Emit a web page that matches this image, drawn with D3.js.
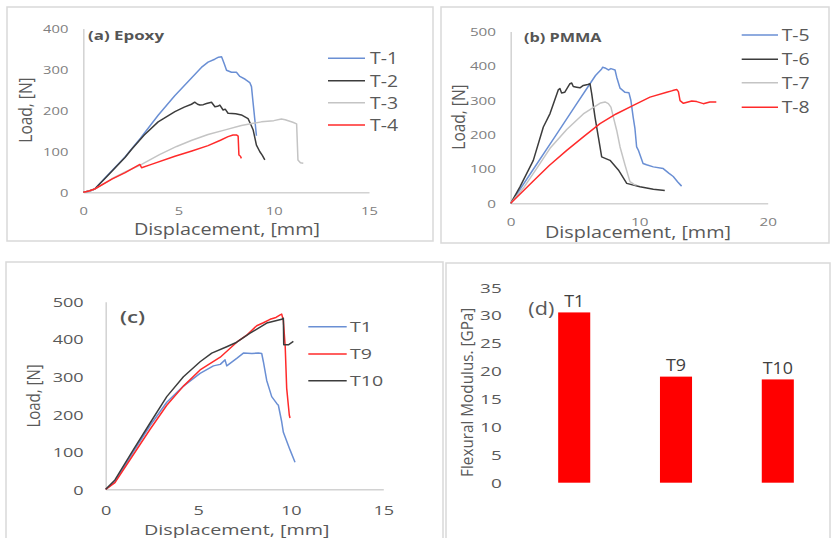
<!DOCTYPE html>
<html>
<head>
<meta charset="utf-8">
<script src="https://cdn.jsdelivr.net/npm/d3@7"></script>
<style>
  html, body { margin: 0; padding: 0; background: #ffffff; }
  svg { display: block; }
</style>
</head>
<body>
<svg id="fig" width="831" height="538"></svg>
<script>
// ---------- data: load–displacement curves, [displacement mm, load N] ----------
const epoxyT1 = [[0,0],[0.3,2],[0.6,8],[1.2,38],[2.19,86],[3.0,132],[3.93,188],[4.8,236],[5.68,279],[6.2,305],[6.55,318],[6.9,325],[7.1,330],[7.26,331],[7.4,314],[7.52,298],[7.78,293],[8.04,293],[8.22,283],[8.5,276],[8.74,268],[8.83,258],[8.9,225],[9.0,180],[9.09,138]];
const epoxyT2 = [[0,0],[0.3,3],[0.6,8],[1.2,37],[2.19,85],[2.54,105],[3.2,140],[3.93,172],[4.81,197],[5.3,208],[5.68,215],[5.85,220],[6.0,215],[6.12,213],[6.3,214],[6.47,217],[6.73,220],[6.91,209],[7.05,210],[7.17,213],[7.34,201],[7.45,203],[7.6,193],[8.0,192],[8.3,189],[8.65,180],[8.8,165],[8.92,152],[9.09,115],[9.27,99],[9.4,90],[9.53,79]];
const epoxyT3 = [[0,0],[0.3,2],[0.6,8],[1.5,33],[2.2,50],[3.06,68],[4.0,92],[4.9,112],[5.7,127],[6.55,141],[7.5,153],[8.3,163],[9.35,172],[10.0,175],[10.4,179],[10.6,177],[11.0,171],[11.2,167],[11.27,79],[11.4,72],[11.55,71]];
const epoxyT4 = [[0,0],[0.3,3],[0.6,8],[1.5,32],[2.2,48],[2.97,68],[3.06,60],[3.5,67],[4.81,88],[5.7,101],[6.55,114],[7.2,127],[7.6,136],[7.86,140],[8.04,140],[8.13,137],[8.17,91],[8.25,88],[8.3,83]];

const pmmaT5 = [[0,0],[1.76,99],[3.5,197],[5.0,282],[6.17,348],[6.6,372],[7.08,391],[7.16,396],[7.34,394],[7.6,388],[7.8,392],[8.12,388],[8.25,367],[8.51,335],[8.9,323],[9.2,322],[9.35,300],[9.53,251],[9.67,217],[9.8,164],[9.93,155],[10.3,116],[10.57,112],[11.1,106],[11.87,101],[12.3,88],[12.65,78],[13.0,62],[13.3,50]];
const pmmaT6 = [[0,0],[0.72,48],[1.76,125],[2.54,222],[3.06,261],[3.7,330],[3.83,334],[3.96,321],[4.2,323],[4.61,348],[4.75,350],[4.87,340],[5.13,338],[5.39,336],[5.65,343],[6.0,346],[6.17,348],[6.3,320],[6.56,251],[6.82,193],[7.08,135],[7.4,130],[7.73,125],[8.38,97],[9.03,58],[10.06,48],[11.1,41],[11.99,37]];
const pmmaT7 = [[0,0],[1.0,45],[2.0,100],[3.06,160],[4.36,215],[5.65,260],[6.69,285],[7.0,292],[7.34,295],[7.6,290],[7.8,280],[7.99,251],[8.25,212],[8.51,164],[8.9,111],[9.28,63],[9.6,55],[9.8,53]];
const pmmaT8 = [[0,0],[1.76,65],[3.0,110],[4.36,154],[5.7,195],[6.95,232],[8.2,260],[9.54,285],[10.84,309],[12.14,323],[12.6,328],[12.92,331],[13.05,325],[13.18,299],[13.44,291],[13.8,295],[14.09,298],[14.48,296],[14.99,290],[15.5,295],[16.0,295]];

const hybT1 = [[0,0],[0.5,20],[1.49,100],[2.4,170],[3.3,232],[4.2,275],[5.1,309],[5.82,329],[6.19,333],[6.45,345],[6.54,329],[7.08,349],[7.44,363],[7.9,362],[8.25,363],[8.43,362],[8.52,340],[8.7,290],[8.97,247],[9.24,229],[9.33,224],[9.51,180],[9.6,152],[9.96,105],[10.23,72]];
const hybT9 = [[0,0],[0.5,18],[1.49,92],[2.4,160],[3.3,224],[4.2,275],[5.1,318],[6.19,352],[7.08,392],[7.6,410],[8.16,436],[8.52,444],[8.88,453],[9.2,458],[9.43,465],[9.51,467],[9.6,450],[9.7,380],[9.78,269],[9.92,198],[9.96,190]];
const hybT10 = [[0,0],[0.5,25],[1.49,105],[2.39,176],[3.3,247],[4.2,300],[5.1,340],[5.73,363],[6.54,380],[7.08,392],[7.8,416],[8.7,443],[9.51,453],[9.6,456],[9.62,385],[9.87,385],[10.14,394]];

// flexural modulus bars
const modCats = ["T1", "T9", "T10"];
const modValues = [30.5, 19.0, 18.5];

// tick values
const ticksX15 = [0, 5, 10, 15];
const ticksX20 = [0, 10, 20];
const ticksY400 = [0, 100, 200, 300, 400];
const ticksY500 = [0, 100, 200, 300, 400, 500];
const ticksY35 = [0, 5, 10, 15, 20, 25, 30, 35];

// ---------- styling ----------
const FONT = "'Open Sans', 'Noto Sans', sans-serif";
const C = { blue: "#6a8fd4", black: "#3c3c3c", gray: "#c4c4c4", red: "#ff2a2a" };
const svg = d3.select("#fig");

// text helper: centred vertically, optional horizontal stretch and rotation
function label(g, x, y, str, o = {}) {
  let tf = `translate(${x},${y}) scale(${o.sx || 1},1)`;
  if (o.rot) tf += ` rotate(${o.rot})`;
  return g.append("text")
    .attr("transform", tf)
    .attr("text-anchor", o.anchor || "start")
    .attr("dominant-baseline", "central")
    .attr("font-family", FONT)
    .attr("font-size", o.size || 14)
    .attr("font-weight", o.weight || "normal")
    .attr("fill", o.fill || "#595959")
    .text(str);
}

function styleAxis(g, o) {
  g.select(".domain").attr("stroke", o.domain === false ? "none" : "#d2d2d2").attr("stroke-width", 1.5);
  g.selectAll(".tick line").remove();
  g.selectAll(".tick text")
    .attr("font-family", FONT)
    .attr("font-size", o.size)
    .attr("fill", o.fill)
    .attr("dy", null)
    .attr("dominant-baseline", "central")
    .attr("x", o.left ? -o.pad / o.sx : 0)
    .attr("y", o.left ? 0 : o.pad)
    .attr("transform", `scale(${o.sx},1)`);
}

// panel frames
[[7, 7, 426, 234], [441, 7, 388, 236], [6, 262, 437, 290], [446, 263, 384, 290]].forEach(r => {
  svg.append("rect").attr("x", r[0]).attr("y", r[1]).attr("width", r[2]).attr("height", r[3])
    .attr("fill", "#ffffff").attr("stroke", "#d9d9d9").attr("stroke-width", 1.5);
});

// generic load–displacement panel
function linePanel(p) {
  const g = svg.append("g");
  const x = d3.scaleLinear().domain(p.xDomain).range(p.xRange);
  const y = d3.scaleLinear().domain(p.yDomain).range(p.yRange);

  const ax = g.append("g").attr("transform", `translate(0,${p.yRange[0]})`)
    .call(d3.axisBottom(x).tickValues(p.xTicks).tickSize(0).tickFormat(d3.format("d")));
  styleAxis(ax, { size: p.tickSize, fill: p.tickFill, sx: p.tickSx, pad: p.xPad });
  const ay = g.append("g").attr("transform", `translate(${p.xRange[0]},0)`)
    .call(d3.axisLeft(y).tickValues(p.yTicks).tickSize(0).tickFormat(d3.format("d")));
  styleAxis(ay, { size: p.tickSize, fill: p.tickFill, sx: p.tickSx, pad: p.yPad, left: true });

  const line = d3.line().x(d => x(d[0])).y(d => y(d[1]));
  p.series.forEach(s => {
    g.append("path").datum(s.data).attr("d", line)
      .attr("fill", "none").attr("stroke", s.color).attr("stroke-width", 1.5)
      .attr("stroke-linejoin", "round");
  });

  // legend
  p.series.forEach((s, i) => {
    const ly = p.legend.y[i];
    g.append("line").attr("x1", p.legend.x1).attr("x2", p.legend.x2).attr("y1", ly).attr("y2", ly)
      .attr("stroke", s.color).attr("stroke-width", 1.5);
    label(g, p.legend.tx, ly, s.name, { size: p.legend.size, sx: p.legend.sx, fill: "#595959" });
  });

  label(g, p.xTitle[0], p.xTitle[1], "Displacement, [mm]", { size: p.xTitle[2], sx: p.xTitle[3], anchor: "middle" });
  label(g, p.yTitle[0], p.yTitle[1], "Load, [N]", { size: p.yTitle[2], sx: p.yTitle[3], anchor: "middle", rot: -90 });
  label(g, p.title[0], p.title[1], p.title[4], { size: p.title[2], sx: p.title[3], weight: p.title[5], fill: "#555555" });
}

// (a) Epoxy
linePanel({
  xDomain: [0, 15], xRange: [83.3, 369], yDomain: [0, 400], yRange: [192.3, 28.5],
  xTicks: ticksX15, yTicks: ticksY400,
  tickSize: 10.5, tickFill: "#808080", tickSx: 1.4, xPad: 19, yPad: 15,
  series: [
    { name: "T-1", data: epoxyT1, color: C.blue },
    { name: "T-2", data: epoxyT2, color: C.black },
    { name: "T-3", data: epoxyT3, color: C.gray },
    { name: "T-4", data: epoxyT4, color: C.red }
  ],
  legend: { x1: 328, x2: 365, tx: 370, y: [58.3, 80.7, 102.7, 125], size: 15.5, sx: 1.25 },
  xTitle: [227, 229, 16.5, 1.2], yTitle: [25, 110, 15.5, 1.16],
  title: [88, 35, 13, 1.3, "(a) Epoxy", "bold"]
});

// (b) PMMA
linePanel({
  xDomain: [0, 20], xRange: [510.7, 767.7], yDomain: [0, 500], yRange: [203.3, 31.5],
  xTicks: ticksX20, yTicks: ticksY500,
  tickSize: 10.5, tickFill: "#808080", tickSx: 1.45, xPad: 18.4, yPad: 14.7,
  series: [
    { name: "T-5", data: pmmaT5, color: C.blue },
    { name: "T-6", data: pmmaT6, color: C.black },
    { name: "T-7", data: pmmaT7, color: C.gray },
    { name: "T-8", data: pmmaT8, color: C.red }
  ],
  legend: { x1: 741.7, x2: 778, tx: 781.7, y: [35, 59.3, 82.7, 107.3], size: 15.5, sx: 1.25 },
  xTitle: [638, 231.5, 16.5, 1.2], yTitle: [458, 117, 15.5, 1.16],
  title: [524, 37, 13, 1.25, "(b) PMMA", "bold"]
});

// (c) comparison
linePanel({
  xDomain: [0, 15], xRange: [105.7, 383.3], yDomain: [0, 500], yRange: [489.3, 301.7],
  xTicks: ticksX15, yTicks: ticksY500,
  tickSize: 12.3, tickFill: "#595959", tickSx: 1.47, xPad: 21, yPad: 22,
  series: [
    { name: "T1", data: hybT1, color: C.blue },
    { name: "T9", data: hybT9, color: C.red },
    { name: "T10", data: hybT10, color: C.black }
  ],
  legend: { x1: 308.3, x2: 346.7, tx: 350, y: [326.7, 354, 380.7], size: 14, sx: 1.4 },
  xTitle: [236.7, 528.5, 15.2, 1.3], yTitle: [33, 396, 15, 1.24],
  title: [120, 316.7, 16.5, 1.35, "(c)", 600]
});

// (d) flexural modulus
(function () {
  const g = svg.append("g");
  const x = d3.scaleBand().domain(modCats).range([523.3, 828.7]).padding(0);
  const y = d3.scaleLinear().domain([0, 35]).range([482.7, 287.3]);
  const barW = x.bandwidth() * 0.315;

  const ay = g.append("g").attr("transform", "translate(515,0)")
    .call(d3.axisLeft(y).tickValues(ticksY35).tickSize(0).tickFormat(d3.format("d")));
  styleAxis(ay, { size: 12.6, fill: "#595959", sx: 1.5, pad: 13.3, left: true, domain: false });

  const bars = modCats.map((c, i) => ({ c, v: modValues[i] }));
  g.selectAll("rect.bar").data(bars).enter().append("rect")
    .attr("class", "bar")
    .attr("x", d => x(d.c) + (x.bandwidth() - barW) / 2)
    .attr("y", d => y(d.v))
    .attr("width", barW)
    .attr("height", d => y(0) - y(d.v))
    .attr("fill", "#ff0000");

  bars.forEach(d => {
    label(g, x(d.c) + x.bandwidth() / 2, y(d.v) - 12, d.c, { size: 17, sx: 1.05, anchor: "middle", fill: "#404040" });
  });

  label(g, 466.7, 392.3, "Flexural Modulus. [GPa]", { size: 15.3, sx: 1.07, anchor: "middle", rot: -90 });
  label(g, 528.3, 308.3, "(d)", { size: 18, sx: 1.2, fill: "#595959" });
})();
</script>
</body>
</html>
